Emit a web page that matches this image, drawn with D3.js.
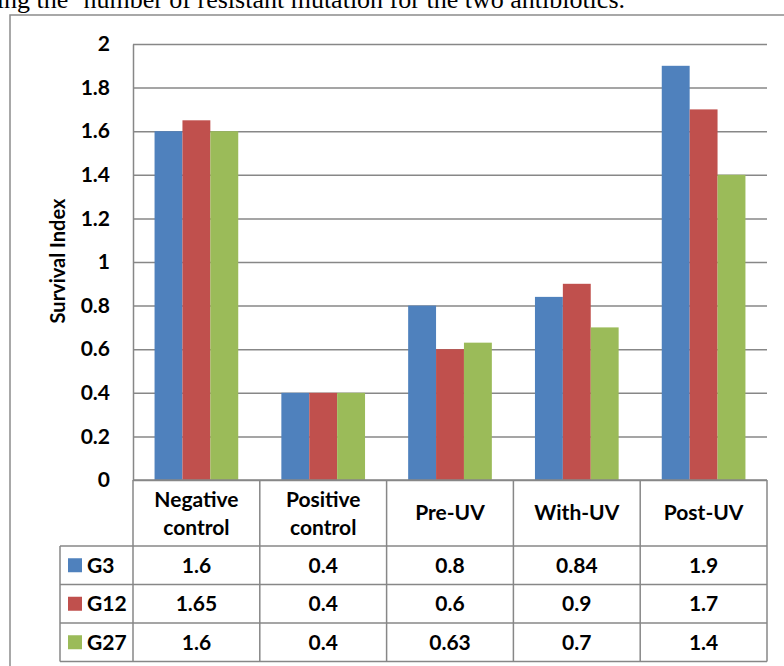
<html>
<head>
<style>
  body { margin: 0; background: #fff; }
  svg { display: block; }
  .lbl { font-family: Lato, "Open Sans", sans-serif; font-weight: bold; fill: #000; }
</style>
</head>
<body>
<svg width="784" height="666"></svg>
<script src="https://d3js.org/d3.v7.min.js"></script>
<script>
// data
let categories = ["Negative control", "Positive control", "Pre-UV", "With-UV", "Post-UV"];
let headerLines = [["Negative", "control"], ["Positive", "control"], ["Pre-UV"], ["With-UV"], ["Post-UV"]];
let seriesNames = ["G3", "G12", "G27"];
let g3 = [1.6, 0.4, 0.8, 0.84, 1.9];
let g12 = [1.65, 0.4, 0.6, 0.9, 1.7];
let g27 = [1.6, 0.4, 0.63, 0.7, 1.4];
let colors = ["#4f81bd", "#c0504d", "#9bbb59"];
let yTicks = [0, 0.2, 0.4, 0.6, 0.8, 1, 1.2, 1.4, 1.6, 1.8, 2];

let series = [g3, g12, g27];
let grid = "#878787";
let fs = "21px";

let svg = d3.select("svg");

// caption text cut off at the top of the page
svg.append("text")
    .attr("x", 625).attr("y", 8)
    .attr("text-anchor", "end")
    .style("font-family", "'Liberation Serif', 'Times New Roman', serif")
    .style("font-size", "26px")
    .text("ing the \u2018number of resistant mutation for the two antibiotics.");

// outer chart frame
svg.append("rect")
    .attr("x", 10).attr("y", 15)
    .attr("width", 800).attr("height", 700)
    .style("fill", "none").style("stroke", "#8c8c8c").style("stroke-width", 1.5);

let plotL = 133, plotR = 767, plotT = 44, plotB = 480;

let x = d3.scaleBand().domain(categories).range([plotL, plotR])
    .paddingInner(0.34).paddingOuter(0.17);
let xs = d3.scaleBand().domain(seriesNames).range([0, x.bandwidth()]);
let y = d3.scaleLinear().domain([0, 2]).range([plotB, plotT]);

// gridlines + tick labels
let yAxis = svg.append("g")
    .attr("transform", `translate(${plotL},0)`)
    .call(d3.axisLeft(y).tickValues(yTicks).tickSize(-(plotR - plotL)).tickSizeOuter(0)
        .tickPadding(23).tickFormat(d3.format("~g")));
yAxis.select(".domain").style("stroke", grid).style("stroke-width", 1.5);
yAxis.selectAll(".tick line").style("stroke", grid).style("stroke-width", 1.5);
yAxis.selectAll(".tick text").attr("class", "lbl").style("font-size", fs);

svg.append("text")
    .attr("class", "lbl")
    .attr("transform", "translate(65,261) rotate(-90)")
    .attr("text-anchor", "middle")
    .style("font-size", "20px")
    .text("Survival Index");

// bars
svg.append("g").selectAll("g")
    .data(series)
    .join("g")
    .style("fill", (d, i) => colors[i])
    .selectAll("rect")
    .data((d, i) => d.map((v, j) => ({ cat: categories[j], s: seriesNames[i], v: v })))
    .join("rect")
    .attr("x", d => x(d.cat) + xs(d.s))
    .attr("width", xs.bandwidth())
    .attr("y", d => y(d.v))
    .attr("height", d => y(0) - y(d.v));

// data table
let step = x.step();
let headBottom = 546, rowH = 38.5, legendLeft = 60;
let tbl = svg.append("g").style("stroke", grid).style("stroke-width", 1.5).style("fill", "none");

tbl.append("line").attr("x1", plotL).attr("x2", plotR).attr("y1", plotB).attr("y2", plotB);
for (let i = 0; i <= seriesNames.length; i++) {
    let yy = headBottom + i * rowH;
    tbl.append("line").attr("x1", legendLeft).attr("x2", plotR).attr("y1", yy).attr("y2", yy);
}
let tableBottom = headBottom + seriesNames.length * rowH;
tbl.append("line").attr("x1", legendLeft).attr("x2", legendLeft).attr("y1", headBottom).attr("y2", tableBottom);
for (let i = 0; i <= categories.length; i++) {
    let xx = plotL + i * step;
    tbl.append("line").attr("x1", xx).attr("x2", xx).attr("y1", plotB).attr("y2", tableBottom);
}

// header labels
categories.forEach((c, i) => {
    let cx = plotL + (i + 0.5) * step;
    let lines = headerLines[i];
    let t = svg.append("text").attr("class", "lbl")
        .attr("text-anchor", "middle")
        .style("font-size", fs);
    lines.forEach((ln, k) => {
        let base = lines.length === 1 ? 520 : 507 + k * 28;
        t.append("tspan").attr("x", cx).attr("y", base).text(ln);
    });
});

// rows
series.forEach((vals, r) => {
    let rowMid = headBottom + (r + 0.5) * rowH;
    svg.append("rect")
        .attr("x", 68).attr("y", rowMid - 7)
        .attr("width", 14).attr("height", 14)
        .style("fill", colors[r]);
    svg.append("text").attr("class", "lbl")
        .attr("x", 87).attr("y", rowMid + 7.5)
        .style("font-size", fs)
        .text(seriesNames[r]);
    vals.forEach((v, j) => {
        svg.append("text").attr("class", "lbl")
            .attr("x", plotL + (j + 0.5) * step).attr("y", rowMid + 7.5)
            .attr("text-anchor", "middle")
            .style("font-size", fs)
            .text(v);
    });
});
</script>
</body>
</html>
